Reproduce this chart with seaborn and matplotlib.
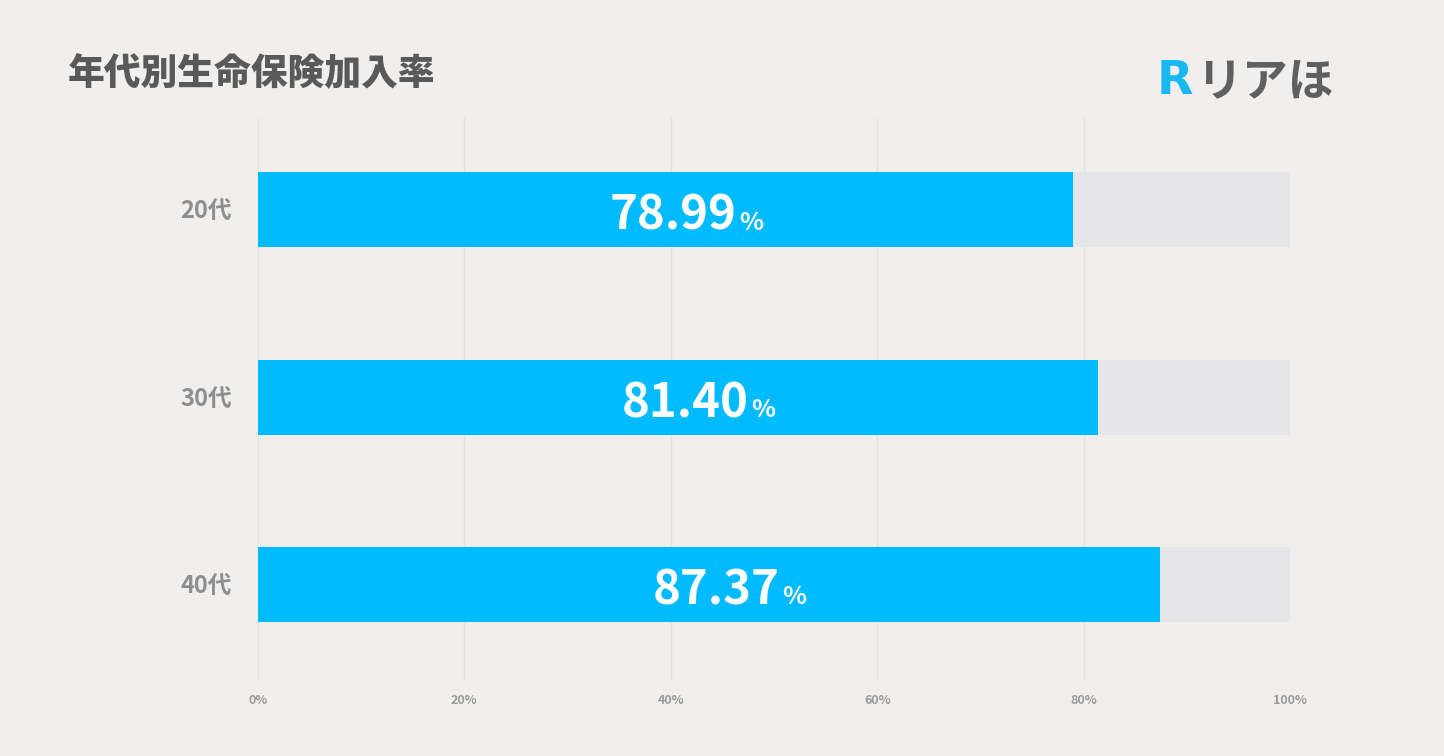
import matplotlib
matplotlib.use("Agg")
import matplotlib.pyplot as plt
import seaborn as sns
import pandas as pd

categories = ["20代", "30代", "40代"]
rates = [78.99, 81.40, 87.37]
xticks = [0, 20, 40, 60, 80, 100]
xtick_labels = ["0%", "20%", "40%", "60%", "80%", "100%"]
title = "年代別生命保険加入率"

sns.set_theme(style="white")
plt.rcParams['font.family'] = ['Noto Sans CJK JP', 'DejaVu Sans']

BG = "#f0efed"
BAR = "#00bbff"
TRACK = "#e6e6e8"

df = pd.DataFrame({"age": categories, "rate": rates, "full": [100] * len(categories)})

fig = plt.figure(figsize=(14.44, 7.56), dpi=100, facecolor=BG)
ax = fig.add_axes([258 / 1444, 1 - 680 / 756, (1290 - 258) / 1444, (680 - 118) / 756])
ax.set_facecolor(BG)

for x in xticks:
    ax.axvline(x, color="#e2e2e2", lw=1, zorder=0)

sns.barplot(data=df, x="full", y="age", color=TRACK, width=0.4, ax=ax, zorder=1,
            saturation=1, linewidth=0)
sns.barplot(data=df, x="rate", y="age", color=BAR, width=0.4, ax=ax, zorder=2,
            saturation=1, linewidth=0)

ax.set_xlim(0, 100)
ax.set_ylim(2.51, -0.49)
ax.set_xlabel("")
ax.set_ylabel("")
for s in ax.spines.values():
    s.set_visible(False)
ax.set_xticks(xticks)
ax.set_xticklabels(xtick_labels, fontsize=9, color="#9a9a9a", fontweight="bold")
ax.tick_params(axis="x", length=0, pad=10)
ax.tick_params(axis="y", length=0, pad=19)
for lab in ax.get_yticklabels():
    lab.set_fontsize(17)
    lab.set_color("#8e8e8e")
    lab.set_fontweight("bold")

fig.canvas.draw()
renderer = fig.canvas.get_renderer()
for i, v in enumerate(rates):
    num = ax.text(0, 0, f"{v:.2f}", fontsize=34, fontweight="bold")
    pct = ax.text(0, 0, "%", fontsize=18, fontweight="bold")
    wn = num.get_window_extent(renderer).width
    wp = pct.get_window_extent(renderer).width
    num.remove(); pct.remove()
    cx = ax.transData.transform((v / 2 + 2.0, i))
    total = wn + 3 + wp
    x0 = cx[0] - total / 2
    base_y = cx[1] - 20
    inv = ax.transData.inverted()
    p_num = inv.transform((x0, base_y))
    p_pct = inv.transform((x0 + wn + 3, base_y))
    ax.text(p_num[0], p_num[1], f"{v:.2f}", ha="left", va="baseline", color="white",
            fontsize=34, fontweight="bold", zorder=3)
    ax.text(p_pct[0], p_pct[1], "%", ha="left", va="baseline", color="white",
            fontsize=18, fontweight="bold", zorder=3)

fig.text(68 / 1444, 1 - 74 / 756, title, ha="left", va="center", fontsize=26.5,
         fontweight="heavy", color="#595959")

fig.text(1157 / 1444, 1 - 82 / 756, "R", ha="left", va="center", fontsize=34,
         fontweight="heavy", color="#1ab8f0", family=["DejaVu Sans"])
fig.text(1196 / 1444, 1 - 82 / 756, "リアほ", ha="left", va="center", fontsize=33,
         fontweight="bold", color="#5f5f5f")

fig.savefig("out.png", dpi=100, facecolor=BG)
